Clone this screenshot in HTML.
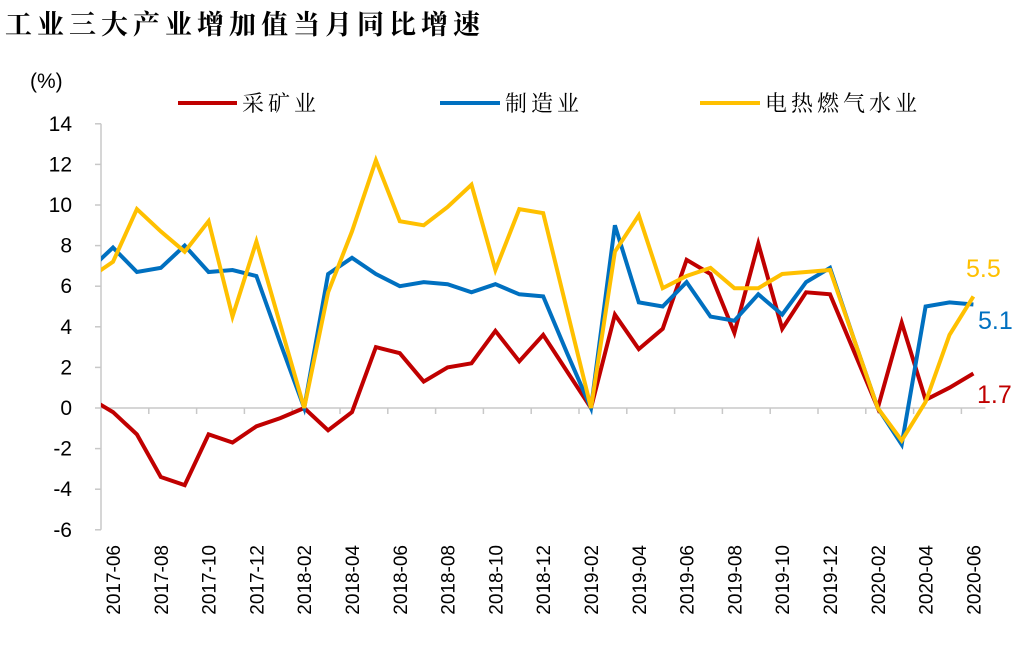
<!DOCTYPE html>
<html><head><meta charset="utf-8"><style>
body{margin:0;background:#fff;}
svg{display:block;font-family:"Liberation Sans","Noto Sans CJK SC",sans-serif;}
.cjk{font-family:"Liberation Serif","Noto Serif CJK SC",serif;}
</style></head><body>
<svg id="chart" width="1024" height="651" viewBox="0 0 1024 651">
<text class="cjk" x="5" y="34" font-size="27" font-weight="bold" letter-spacing="5" fill="#000">工业三大产业增加值当月同比增速</text>
<text x="30" y="88" font-size="21" fill="#000">(%)</text>
<g>
<line x1="178" y1="103" x2="237" y2="103" stroke="#C00000" stroke-width="4"/>
<text class="cjk" x="242" y="111" font-size="22" letter-spacing="4">采矿业</text>
<line x1="440" y1="103" x2="500" y2="103" stroke="#0070C0" stroke-width="4"/>
<text class="cjk" x="505" y="111" font-size="22" letter-spacing="4">制造业</text>
<line x1="700" y1="103" x2="760" y2="103" stroke="#FFC000" stroke-width="4"/>
<text class="cjk" x="765" y="111" font-size="22" letter-spacing="4">电热燃气水业</text>
</g>
<g id="axes"></g>
<g id="series"></g>
<text x="966" y="277" font-size="25" fill="#FFC000">5.5</text>
<text x="978" y="329" font-size="25" fill="#0070C0">5.1</text>
<text x="977" y="403" font-size="25" fill="#C00000">1.7</text>
</svg>
<script>
const months = ["2017-05","2017-06","2017-07","2017-08","2017-09","2017-10","2017-11","2017-12","2018-01","2018-02","2018-03","2018-04","2018-05","2018-06","2018-07","2018-08","2018-09","2018-10","2018-11","2018-12","2019-01","2019-02","2019-03","2019-04","2019-05","2019-06","2019-07","2019-08","2019-09","2019-10","2019-11","2019-12","2020-01","2020-02","2020-03","2020-04","2020-05","2020-06"];
const mining = [0.5,-0.2,-1.3,-3.4,-3.8,-1.3,-1.7,-0.9,-0.5,0,-1.1,-0.2,3.0,2.7,1.3,2.0,2.2,3.8,2.3,3.6,1.8,0,4.6,2.9,3.9,7.3,6.6,3.7,8.1,3.9,5.7,5.6,2.8,0,4.2,0.4,1.0,1.7];
const manufacturing = [6.8,7.9,6.7,6.9,8.0,6.7,6.8,6.5,3.2,0,6.6,7.4,6.6,6.0,6.2,6.1,5.7,6.1,5.6,5.5,2.7,0,9.0,5.2,5.0,6.2,4.5,4.3,5.6,4.6,6.2,6.9,3.4,0,-1.8,5.0,5.2,5.1];
const utilities = [6.4,7.2,9.8,8.7,7.7,9.2,4.5,8.2,4.1,0,5.7,8.7,12.2,9.2,9.0,9.9,11.0,6.8,9.8,9.6,4.8,0,7.7,9.5,5.9,6.5,6.9,5.9,5.9,6.6,6.7,6.8,3.4,0,-1.6,0.3,3.6,5.5];
const yTicks = [14,12,10,8,6,4,2,0,-2,-4,-6];
const xLabelStep = 2;

const NS="http://www.w3.org/2000/svg";
const X0=101, STEP=23.9, FIRST=1;
function xPos(i){return X0+12+(i-FIRST)*STEP;}
function yPos(v){return 408-20.3*v;}
const axes=document.getElementById('axes');
function mk(tag,attrs,parent){const e=document.createElementNS(NS,tag);for(const k in attrs)e.setAttribute(k,attrs[k]);parent.appendChild(e);return e;}

const ya=mk('line',{x1:X0,y1:yPos(14),x2:X0,y2:yPos(-6),stroke:'#c8c8c8','stroke-width':1.5},axes);


yTicks.forEach(v=>{
  const t=mk('line',{x1:X0-6,y1:yPos(v),x2:X0,y2:yPos(v),stroke:'#c8c8c8','stroke-width':1.5},axes);
  
  
  const l=mk('text',{x:72,y:yPos(v)+7,'font-size':21,'text-anchor':'end'},axes);
  l.textContent=v;
  
  
});
const xEnd=xPos(months.length-1)+12;
const xa=mk('line',{x1:X0,y1:yPos(0),x2:xEnd,y2:yPos(0),stroke:'#c8c8c8','stroke-width':1.5},axes);


for(let i=FIRST;i<months.length;i++){
  const k=i-FIRST;
  if(k>0 && k%2===0){
    const bx=X0+k*STEP;
    const t=mk('line',{x1:bx,y1:yPos(0),x2:bx,y2:yPos(0)+6,stroke:'#c8c8c8','stroke-width':1.5},axes);
    
    
  }
  if(k%xLabelStep===0){
    const x=xPos(i)+7;
    const l=mk('text',{x:x,y:545,'font-size':19,'text-anchor':'end',transform:`rotate(-90 ${x} 545)`},axes);
    l.textContent=months[i];
    
    
  }
}
const defs=mk('defs',{},document.getElementById('chart'));
const cp=mk('clipPath',{id:'plot'},defs);
mk('rect',{x:X0,y:0,width:1024-X0,height:651},cp);
const sg=document.getElementById('series');
sg.setAttribute('clip-path','url(#plot)');
function drawLine(vals,color,name){
  const pts=vals.map((v,i)=>xPos(i).toFixed(1)+','+yPos(v).toFixed(1)).join(' ');
  const p=mk('polyline',{points:pts,fill:'none',stroke:color,'stroke-width':4,'stroke-linejoin':'miter'},sg);
  
  
}
drawLine(mining,'#C00000','mining-line');
drawLine(manufacturing,'#0070C0','manufacturing-line');
drawLine(utilities,'#FFC000','utilities-line');
</script>
</body></html>
